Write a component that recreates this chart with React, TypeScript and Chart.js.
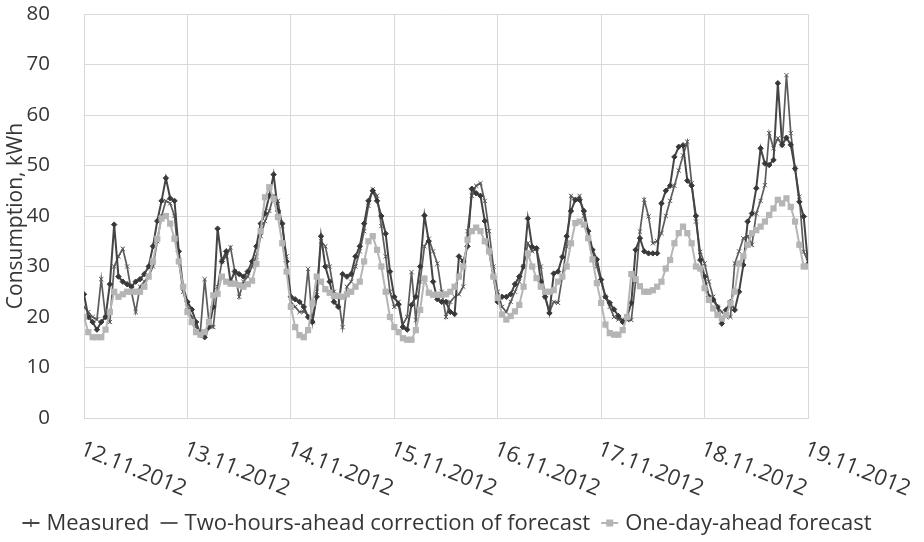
import React, { useEffect, useRef } from "react";
import { Chart, registerables } from "chart.js";

Chart.register(...registerables);

const dayLabels = [
  "12.11.2012", "13.11.2012", "14.11.2012", "15.11.2012",
  "16.11.2012", "17.11.2012", "18.11.2012", "19.11.2012",
];

const seriesNames = [
  "Measured",
  "Two-hours-ahead correction of forecast",
  "One-day-ahead forecast",
];

// hourly values, 12.11.2012 00:00 .. 19.11.2012 00:00
const measured = [
  24.5, 20, 19, 17.5, 19, 20, 26.5, 38.3, 28, 27, 26.5, 26, 27, 27.5, 28.5, 30, 34, 39, 43, 47.5, 43.5, 43, 33, 26,
  23, 21.5, 19, 16.5, 16, 18, 22, 37.5, 31, 33, 27, 29, 28.5, 28, 29, 31, 34, 38.5, 40.5, 44, 48.2, 41, 38.5, 31,
  24, 23.5, 23, 22, 20, 19, 24, 36, 30, 27, 23, 22, 28.5, 28, 28.5, 32, 34, 38.5, 43, 45, 43, 40, 36.5, 29,
  24, 22.5, 18, 17.5, 22.4, 24, 30, 40.1, 35, 27, 23.5, 23, 23, 21, 20.6, 32, 31, 34, 45.4, 44.5, 44, 39, 33, 28,
  23, 24, 24, 24.5, 26.5, 28, 30, 39.5, 33.9, 33.6, 27, 24, 20.8, 28.6, 29, 31.9, 36, 41, 43.2, 43.2, 41, 37, 33.3, 31.4,
  27.4, 24, 22.8, 21.5, 20.2, 19, 20, 22.8, 33.3, 35.6, 33, 32.6, 32.6, 32.6, 42.5, 45, 46, 51.7, 53.7, 54, 47, 46, 40, 31.3,
  28, 24, 23.4, 22, 18.7, 21.4, 23, 21.4, 25, 30.3, 38.9, 40.5, 45.5, 53.4, 50.4, 50.1, 51.1, 66.3, 54.1, 55.5, 54.1, 49.4, 42.8, 39.9, 30.5,
];

const twoHoursAhead = [
  22, 21, 20, 19.5, 27.5, 20, 19, 30, 32, 33.5, 30, 25, 21, 26, 27, 28, 30, 35, 40, 43, 42.5, 40, 31, 25,
  22, 20, 18, 17, 27.5, 19, 18, 26, 31, 32, 33.8, 29, 24, 27, 28, 30, 32, 36, 39, 41, 44, 43, 38, 32,
  23, 22, 21, 21, 29.5, 19, 25, 35, 34, 30, 25, 24, 18, 26, 27, 30, 33, 37, 42, 45.3, 44, 38, 32, 25,
  22, 23, 18.6, 20, 28.9, 19.4, 27, 34, 35.5, 33, 30.6, 25, 20, 23, 24, 24.5, 26, 37, 44, 46, 46.5, 43, 37, 30,
  25, 22, 21, 23, 25, 27, 30, 34.6, 33, 33.5, 30, 24, 21, 23, 22.8, 28, 34, 44, 43.2, 44, 40, 36, 33, 30,
  27, 24, 22, 20, 19.5, 19.5, 19.4, 19.4, 27, 36.9, 43.2, 39.9, 34.6, 35, 36.6, 40, 43, 46, 49, 52, 54.7, 46.5, 38.9, 32.9,
  30.6, 27, 24, 22, 21, 20, 20, 30.6, 33, 35.6, 36, 34.3, 40.5, 43, 46.1, 56.4, 53.4, 55.4, 54, 67.9, 56.4, 49.4, 43.8, 32.9, 31,
];

const oneDayAhead = [
  20, 17, 16, 16, 16, 17.5, 21, 25, 24, 24.5, 25, 25, 25, 25, 26, 28, 31, 35.5, 39.5, 40, 38.5, 35.5, 31, 26,
  21, 19, 17, 16.5, 17, 19, 24.3, 24.6, 28, 27, 26.6, 26.6, 26.3, 26, 26.5, 27.2, 30.5, 37, 43.7, 45.7, 43.4, 39.8, 34.6, 29,
  22, 18, 16.4, 16, 17.4, 22.7, 28, 27, 25.5, 24.8, 24.2, 24.2, 24, 24.5, 25, 26, 27, 31, 35, 36, 33.3, 30, 25, 20,
  18, 17, 15.8, 15.5, 15.5, 17.4, 21.4, 27.6, 24.8, 24.4, 24.4, 24.4, 24.5, 25, 26, 28, 30, 35.3, 37, 37.7, 37, 35, 33, 28,
  23.8, 20.5, 19.5, 20.2, 21.1, 22.4, 26, 32.6, 30, 27.7, 26, 25, 25, 25.3, 27, 28, 30, 34.6, 38.6, 38.9, 38.3, 35.6, 31.4, 26.7,
  22.8, 18.5, 16.8, 16.5, 16.5, 17.4, 20, 28.5, 27.5, 26.1, 25, 25, 25.3, 26, 27, 29.6, 31.3, 34.6, 36.6, 37.9, 36.6, 34.6, 30, 29.6,
  25.7, 23.4, 21.7, 20.4, 19.7, 20.4, 22.7, 25, 30.6, 32, 34.3, 36.6, 37.2, 37.9, 38.9, 40.2, 41.5, 43.2, 42.5, 43.5, 41.8, 38.9, 34.3, 30, 30,
];

const FONT = "'Open Sans', sans-serif";
const TEXT = "#363636";
const GRID = "#d9d9d9";
const C_MEAS = "#454545";
const C_TWO = "#5c5c5c";
const C_ONE = "#b5b5b5";

const toPoints = (arr: number[]) => arr.map((v, i) => ({ x: i, y: v }));

const customPlugin = {
  id: "customText",
  afterDraw(chart: any) {
    const ctx = chart.ctx as CanvasRenderingContext2D;
    const xs = chart.scales.x;
    ctx.save();
    ctx.fillStyle = TEXT;
    ctx.font = `22px ${FONT}`;
    ctx.textAlign = "left";
    ctx.textBaseline = "alphabetic";
    const angle = (22 * Math.PI) / 180;
    dayLabels.forEach((lab, k) => {
      const x = xs.getPixelForValue(k * 24);
      ctx.save();
      ctx.translate(x - 5, 454);
      ctx.rotate(angle);
      ctx.fillText(lab, 0, 0);
      ctx.restore();
    });

    // legend
    const y = 523;
    const symW = 17;
    const gapSym = 7;
    const gapItem = 11;
    const widths = seriesNames.map((n) => ctx.measureText(n).width);
    const total =
      widths.reduce((a, b) => a + b, 0) +
      seriesNames.length * (symW + gapSym) +
      gapItem * (seriesNames.length - 1);
    let x = 447 - total / 2;
    ctx.textBaseline = "middle";
    seriesNames.forEach((name, k) => {
      const color = k === 0 ? C_MEAS : k === 1 ? C_TWO : C_ONE;
      ctx.strokeStyle = color;
      ctx.lineWidth = 2;
      ctx.beginPath();
      ctx.moveTo(x, y);
      ctx.lineTo(x + symW, y);
      ctx.stroke();
      const cx = x + symW / 2;
      if (k === 0) {
        ctx.lineWidth = 1.5;
        ctx.beginPath();
        ctx.moveTo(cx, y - 4);
        ctx.lineTo(cx, y + 4);
        ctx.stroke();
      } else if (k === 2) {
        ctx.fillStyle = color;
        ctx.fillRect(cx - 3.5, y - 3.5, 7, 7);
      }
      ctx.fillStyle = TEXT;
      ctx.fillText(name, x + symW + gapSym, y + 1);
      x += symW + gapSym + widths[k] + gapItem;
    });
    ctx.restore();
  },
};

export default function App() {
  const ref = useRef<HTMLCanvasElement | null>(null);

  useEffect(() => {
    document.body.style.margin = "0";
    const canvas = ref.current;
    if (!canvas) return;
    const chart = new Chart(canvas, {
      type: "line",
      data: {
        datasets: [
          {
            label: seriesNames[0],
            data: toPoints(measured),
            borderColor: C_MEAS,
            backgroundColor: C_MEAS,
            borderWidth: 2,
            pointStyle: "rectRot",
            pointRadius: 2.7,
            pointBorderWidth: 1,
            pointBorderColor: "#383838",
            pointBackgroundColor: "#383838",
            tension: 0,
            order: 1,
          },
          {
            label: seriesNames[1],
            data: toPoints(twoHoursAhead),
            borderColor: C_TWO,
            backgroundColor: C_TWO,
            borderWidth: 1.7,
            pointStyle: "crossRot",
            pointRadius: 3,
            pointBorderWidth: 1,
            pointBorderColor: "#555555",
            tension: 0,
            order: 2,
          },
          {
            label: seriesNames[2],
            data: toPoints(oneDayAhead),
            borderColor: C_ONE,
            backgroundColor: C_ONE,
            borderWidth: 2,
            pointStyle: "rect",
            pointRadius: 4.4,
            pointBorderWidth: 0,
            pointBackgroundColor: C_ONE,
            tension: 0,
            order: 0,
          },
        ],
      },
      options: {
        responsive: false,
        animation: false,
        layout: { padding: { left: 0, right: 116, top: 14, bottom: 0 } },
        plugins: {
          legend: { display: false },
          tooltip: { enabled: false },
        },
        scales: {
          x: {
            type: "linear",
            min: 0,
            max: 168,
            ticks: { stepSize: 24, display: false },
            grid: { color: GRID, lineWidth: 1, drawTicks: false },
            border: { display: true, color: GRID },
            afterFit: (s: any) => {
              s.height = 124;
              s.paddingLeft = 0;
              s.paddingRight = 0;
            },
          },
          y: {
            min: 0,
            max: 80,
            ticks: {
              stepSize: 10,
              padding: 34,
              color: TEXT,
              font: { family: FONT, size: 20.5 },
            },
            grid: { color: GRID, lineWidth: 1, drawTicks: false },
            border: { display: true, color: GRID },
            title: {
              display: true,
              text: "Consumption, kWh",
              color: TEXT,
              font: { family: FONT, size: 21 },
              padding: { top: 3, bottom: 0 },
            },
            afterFit: (s: any) => {
              s.width = 84;
              s.paddingTop = 0;
              s.paddingBottom = 0;
            },
          },
        },
      },
      plugins: [customPlugin],
    });
    return () => chart.destroy();
  }, []);

  return (
    <div style={{ width: 924, height: 542 }}>
      <canvas ref={ref} width={924} height={542} />
    </div>
  );
}
